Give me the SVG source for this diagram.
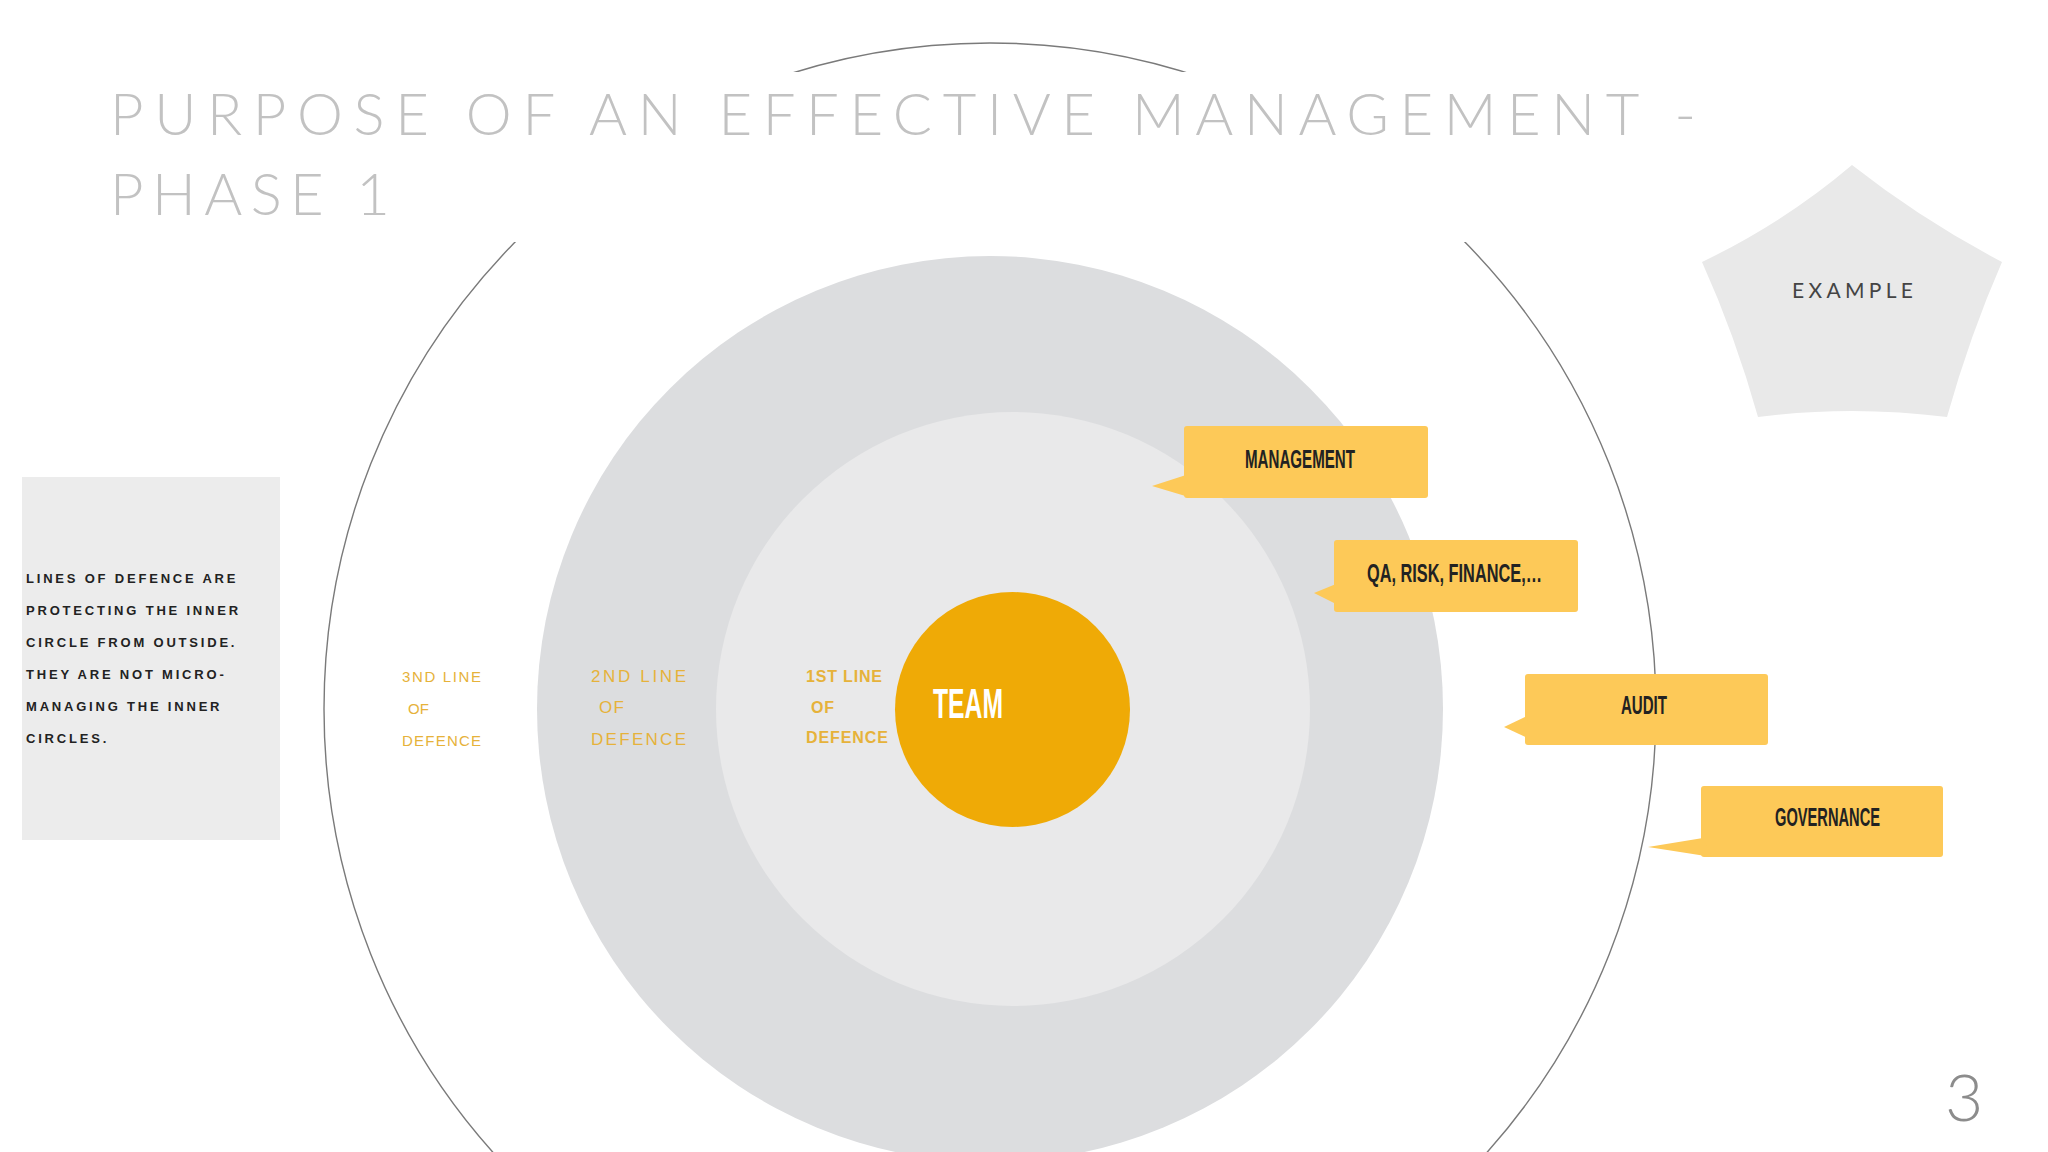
<svg xmlns="http://www.w3.org/2000/svg" width="2048" height="1152" viewBox="0 0 2048 1152">
<style>
.title{font-family:Lato,"Liberation Sans",sans-serif;font-weight:300;font-size:58px;fill:#c2c2c2}
.note{font-family:"Liberation Sans",Arial,sans-serif;font-weight:bold;font-size:13px;fill:#222;letter-spacing:2.8px}
.lod{font-family:"Liberation Sans",Arial,sans-serif;fill:#e6b23a}
.call{fill:#fdc958}
.clab{font-family:"Liberation Sans",Arial,sans-serif;font-weight:bold;font-size:25px;fill:#222}
</style>
<rect width="2048" height="1152" fill="#ffffff"/>
<g id="outer-ring">
<circle cx="990" cy="709" r="666" fill="none" stroke="#7a7a7a" stroke-width="1.4"/>
</g>
<rect x="100" y="72" width="1620" height="170" fill="#ffffff"/>
<g id="title">
<text class="title" x="110" y="135" textLength="1586" lengthAdjust="spacing">PURPOSE OF AN EFFECTIVE MANAGEMENT -</text>
<text class="title" x="110" y="215" textLength="280" lengthAdjust="spacing">PHASE 1</text>
</g>
<g id="second-line">
<circle cx="990" cy="709" r="453" fill="#dcdddf"/>
</g>
<g id="first-line">
<circle cx="1013" cy="709" r="297" fill="#e9e9ea"/>
</g>
<g id="team">
<circle cx="1012.5" cy="709.5" r="117.5" fill="#efaa06"/>
<text x="933" y="718" font-family="Liberation Sans, Arial, sans-serif" font-weight="bold" font-size="42" fill="#ffffff" textLength="70" lengthAdjust="spacingAndGlyphs">TEAM</text>
</g>
<g id="note">
<rect x="22" y="477" width="258" height="363" fill="#ececec"/>
<text class="note" x="26" y="583">LINES OF DEFENCE ARE</text>
<text class="note" x="26" y="615">PROTECTING THE INNER</text>
<text class="note" x="26" y="647">CIRCLE FROM OUTSIDE.</text>
<text class="note" x="26" y="679">THEY ARE NOT MICRO-</text>
<text class="note" x="26" y="711">MANAGING THE INNER</text>
<text class="note" x="26" y="743">CIRCLES.</text>
</g>
<g id="label-3rd">
<text class="lod" font-size="15" x="402" y="682" textLength="79" lengthAdjust="spacing">3ND LINE</text>
<text class="lod" font-size="15" x="408" y="714" textLength="21" lengthAdjust="spacing">OF</text>
<text class="lod" font-size="15" x="402" y="746" textLength="79" lengthAdjust="spacing">DEFENCE</text>
</g>
<g id="label-2nd">
<text class="lod" font-size="17" x="591" y="682" textLength="95" lengthAdjust="spacing">2ND LINE</text>
<text class="lod" font-size="17" x="599" y="713" textLength="25" lengthAdjust="spacing">OF</text>
<text class="lod" font-size="17" x="591" y="745" textLength="95" lengthAdjust="spacing">DEFENCE</text>
</g>
<g id="label-1st" font-weight="bold">
<text class="lod" font-size="16" x="806" y="682" textLength="76" lengthAdjust="spacing">1ST LINE</text>
<text class="lod" font-size="16" x="811" y="713" textLength="23" lengthAdjust="spacing">OF</text>
<text class="lod" font-size="16" x="806" y="743" textLength="82" lengthAdjust="spacing">DEFENCE</text>
</g>
<g id="callout-management">
<rect class="call" x="1184" y="426" width="244" height="72" rx="3"/>
<polygon class="call" points="1186,475 1152,486 1192,498"/>
<text class="clab" x="1245" y="468" textLength="110" lengthAdjust="spacingAndGlyphs">MANAGEMENT</text>
</g>
<g id="callout-qa">
<rect class="call" x="1334" y="540" width="244" height="72" rx="3"/>
<polygon class="call" points="1336,584 1314,593 1336,604"/>
<text class="clab" x="1367" y="582" textLength="175" lengthAdjust="spacingAndGlyphs">QA, RISK, FINANCE,…</text>
</g>
<g id="callout-audit">
<rect class="call" x="1525" y="674" width="243" height="71" rx="3"/>
<polygon class="call" points="1527,716 1504,727 1530,739"/>
<text class="clab" x="1621" y="714" textLength="46" lengthAdjust="spacingAndGlyphs">AUDIT</text>
</g>
<g id="callout-governance">
<rect class="call" x="1701" y="786" width="242" height="71" rx="3"/>
<polygon class="call" points="1703,838 1648,847 1712,857"/>
<text class="clab" x="1775" y="826" textLength="105" lengthAdjust="spacingAndGlyphs">GOVERNANCE</text>
</g>
<g id="example">
<path d="M1852,165 Q1922,220 2002,262 Q1970,335 1947,417 Q1852,405 1758,417 Q1735,335 1702,262 Q1785,222 1852,165 Z" fill="#e9e9e9"/>
<text x="1792" y="298" font-family="Lato, 'Liberation Sans', sans-serif" font-size="21" fill="#444" textLength="121" lengthAdjust="spacing">EXAMPLE</text>
</g>
<g id="page-number">
<text x="1945" y="1121" font-family="Lato, 'Liberation Sans', sans-serif" font-weight="300" font-size="66" fill="#8c8c8c">3</text>
</g>
</svg>
